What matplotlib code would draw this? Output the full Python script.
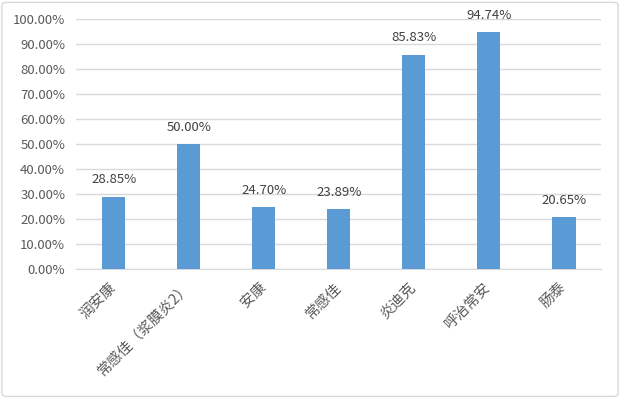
import matplotlib
matplotlib.use("Agg")
import matplotlib.pyplot as plt
import matplotlib.transforms as mtransforms
from matplotlib.patches import FancyBboxPatch
from matplotlib.ticker import FuncFormatter, MultipleLocator

plt.rcParams['font.family'] = ['Noto Sans CJK SC', 'DejaVu Sans']

# data
categories = ["润安康", "常感佳（浆膜炎2）", "安康", "常感佳", "炎迪克", "呼治常安", "肠泰"]
values = [28.85, 50.00, 24.70, 23.89, 85.83, 94.74, 20.65]

bar_color = "#5B9BD5"
text_color = "#595959"
grid_color = "#D9D9D9"

fig = plt.figure(figsize=(6.2, 3.98), dpi=100)
ax = fig.add_axes([0.123, 0.324, 0.847, 0.628])

# outer border like an Excel chart area
border = FancyBboxPatch((0.003, 0.004), 0.994, 0.99, boxstyle="round,pad=0,rounding_size=0.008",
                        transform=fig.transFigure, fill=False, edgecolor=grid_color, linewidth=1)
fig.patches.append(border)

x = range(len(categories))
bars = ax.bar(x, values, width=0.31, color=bar_color, zorder=3)

for xi, v in zip(x, values):
    ax.text(xi, v + 4.2, "%.2f%%" % v, ha="center", va="bottom", fontsize=9.5, color="#404040")

ax.set_xlim(-0.5, len(categories) - 0.5)
ax.set_ylim(0, 100)
ax.yaxis.set_major_locator(MultipleLocator(10))
ax.yaxis.set_major_formatter(FuncFormatter(lambda v, p: "%.2f%%" % v))
ax.grid(axis="y", color=grid_color, linewidth=1, zorder=0)

ax.set_xticks(list(x))
ax.set_xticklabels(categories, rotation=45, ha="right", rotation_mode="anchor", fontsize=10.5, color=text_color)
ax.tick_params(axis="y", length=0, labelsize=9.5, labelcolor=text_color, pad=8)
ax.tick_params(axis="x", length=0, pad=8)

# nudge the rotated labels a little to the left
shift = mtransforms.ScaledTranslation(-0.05, 0, fig.dpi_scale_trans)
for lbl in ax.get_xticklabels():
    lbl.set_transform(lbl.get_transform() + shift)

for side in ["top", "right", "left"]:
    ax.spines[side].set_visible(False)
ax.spines["bottom"].set_color(grid_color)

fig.savefig("out.png", dpi=100)
